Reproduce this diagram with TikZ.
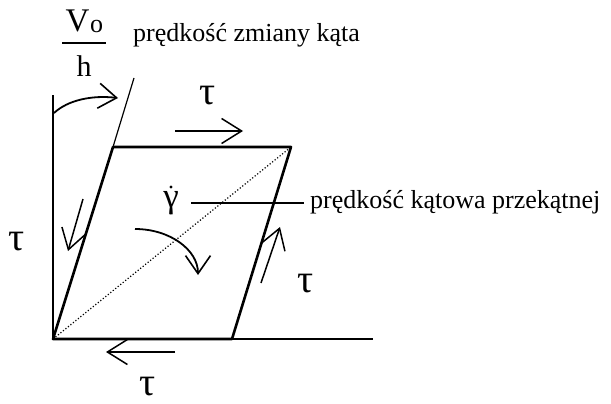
\documentclass[tikz,border=0pt]{standalone}
\usepackage{fontspec}
\setmainfont{Liberation Serif}
\usetikzlibrary{arrows.meta}
\begin{document}
\begin{tikzpicture}[x=1pt,y=-1pt,
  thickline/.style={line width=2.6pt,line cap=round,line join=round},
  thinline/.style={line width=1.2pt},
  force/.style={line width=1.5pt,-{Straight Barb[length=20pt,width=25pt,line width=1.5pt]}},
  rot/.style={line width=1.8pt,-{Straight Barb[length=18pt,width=25pt,line width=1.6pt]}},
  lab/.style={font=\fontsize{26}{30}\selectfont,inner sep=0pt},
  greek/.style={font=\fontsize{40}{44}\selectfont,inner sep=0pt}]
\useasboundingbox (0,0) rectangle (611,404);
% corners
\coordinate (A) at (53,339);
\coordinate (B) at (232,339);
\coordinate (C) at (291,147);
\coordinate (D) at (113,147);
% axes
\coordinate (Ytop) at (53,95);
\coordinate (Xend) at (373,339);
\coordinate (Incl) at (134,78);
\draw[line width=1.8pt] (A) -- (Ytop);
\draw[thinline] (B) -- (Xend);
\draw[thinline] (D) -- (Incl);
% diagonal
\draw[line width=1.2pt,dotted] (A) -- (C);
% parallelogram
\draw[thickline] (A) -- (B) -- (C) -- (D) -- cycle;
% fraction
\node[lab,font=\fontsize{33}{36}\selectfont,anchor=base] (V) at (77.5,32) {V};
\node[lab,font=\fontsize{26}{28}\selectfont,anchor=base west] (o) at (90,33) {o};
\coordinate (barL) at (62,43);
\coordinate (barR) at (106,43);
\draw[line width=1.5pt] (barL) -- (barR);
\node[lab,font=\fontsize{30}{32}\selectfont,anchor=base] (h) at (84,77) {h};
\node[lab,anchor=base west] (t1) at (133,42) {prędkość zmiany kąta};
% top rotation arrow
\coordinate (r1s) at (54,113);
\coordinate (r1e) at (118,98);
\draw[rot] (r1s) .. controls (68,100) and (92,95) .. (r1e);
% tau labels
\node[greek] (tauT) at (208,96) {τ};
\node[greek] (tauL) at (17,242) {τ};
\node[greek] (tauR) at (306,284) {τ};
\node[greek] (tauB) at (148,387) {τ};
% force arrows
\coordinate (fTs) at (175,131);
\coordinate (fTe) at (243,131);
\draw[force] (fTs) -- (fTe);
\coordinate (fLs) at (83,199);
\coordinate (fLe) at (68,251);
\draw[force] (fLs) -- (fLe);
\coordinate (fRs) at (261,283);
\coordinate (fRe) at (280,227);
\draw[force] (fRs) -- (fRe);
\coordinate (fBs) at (175,352);
\coordinate (fBe) at (106,352);
\draw[force] (fBs) -- (fBe);
% gamma dot
\node[greek,font=\fontsize{35}{38}\selectfont,anchor=base] (g) at (171,207) {γ};
\node[circle,fill=black,inner sep=0pt,minimum size=3.4pt] (gdot) at (171,187) {};
\coordinate (lead1) at (191,203);
\node[lab,anchor=base west] (t2) at (310,208) {prędkość kątowa przekątnej};
\coordinate (lead2) at (304,203);
\draw[thinline] (lead1) -- (lead2);
% middle rotation arrow
\coordinate (r2s) at (135,229);
\coordinate (r2e) at (198,275);
\draw[rot] (r2s) .. controls (170,229) and (198,250) .. (r2e);
\end{tikzpicture}
\end{document}
